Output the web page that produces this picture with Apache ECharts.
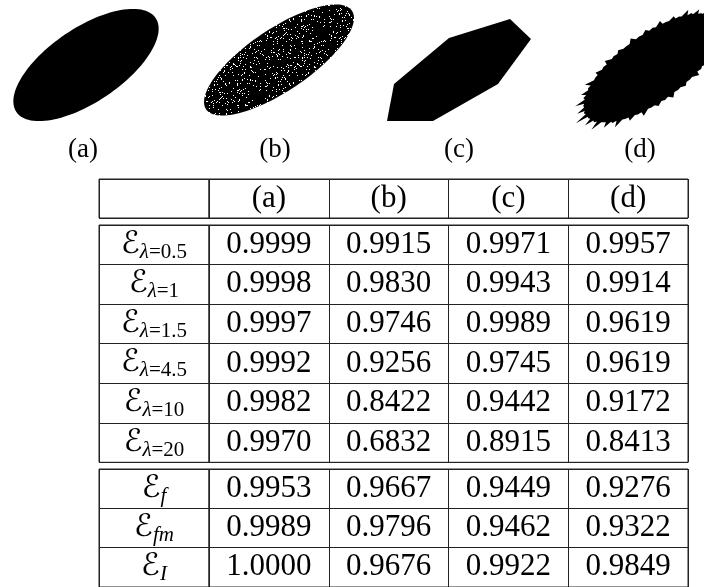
<!DOCTYPE html>
<html>
<head>
<meta charset="utf-8">
<script src="https://cdn.jsdelivr.net/npm/echarts@6/dist/echarts.min.js"></script>
<style>
html,body{margin:0;padding:0;background:#ffffff;}
#c{width:704px;height:587px;}
</style>
</head>
<body>
<div id="c"></div>
<script>
// ---------------- data ----------------
const shapeLabels = ['(a)', '(b)', '(c)', '(d)'];
// ellipses: [cx, cy, rx, ry, angleDeg]
const shapeA = [86, 65, 84, 37, 34];
const shapeB = [279, 60, 88, 31, 34];
// polygon (c) vertices
const shapeC = [[387, 121], [394, 84], [449, 38], [510, 19], [531, 39], [498, 84], [433, 121]];
// jagged ellipse (d): [cx, cy, rx, ry, angleDeg] + radius factors
const shapeD = [652, 68, 84, 34, 36];
const spikesD = [1.10, 0.99, 1.05, 0.98, 1.08, 0.97, 1.04, 0.99, 1.07, 0.98, 1.03, 0.97, 1.06, 0.99, 1.04, 0.98,
                 1.07, 0.97, 1.03, 0.99, 1.06, 0.98, 1.04, 0.97, 1.08, 0.98, 1.05, 0.99, 1.09, 0.97, 1.06, 0.98,
                 1.12, 0.97, 1.07, 0.98, 1.10, 0.96, 1.06, 0.99, 1.09, 0.97, 1.05, 0.98, 1.08, 0.97, 1.04, 0.99,
                 1.07, 0.98, 1.03, 0.97, 1.06, 0.99, 1.04, 0.98, 1.05, 0.97, 1.03, 0.99, 1.06, 0.98, 1.04, 0.97];

const colLabels = ['(a)', '(b)', '(c)', '(d)'];
const rowsTop = ['0.5', '1', '1.5', '4.5', '10', '20'];
const rowsBottom = ['f', 'fm', 'I'];
const valuesA = [0.9999, 0.9998, 0.9997, 0.9992, 0.9982, 0.9970, 0.9953, 0.9989, 1.0000];
const valuesB = [0.9915, 0.9830, 0.9746, 0.9256, 0.8422, 0.6832, 0.9667, 0.9796, 0.9676];
const valuesC = [0.9971, 0.9943, 0.9989, 0.9745, 0.9442, 0.8915, 0.9449, 0.9462, 0.9922];
const valuesD = [0.9957, 0.9914, 0.9619, 0.9619, 0.9172, 0.8413, 0.9276, 0.9322, 0.9849];

// ---------------- styles ----------------
const LINE = '#222222';
const SERIF = "'Liberation Serif','Times New Roman',serif";
const SCRIPT = "'DejaVu Serif','DejaVu Sans',serif";
const CELL_FONT = 31;

// texture for the speckled shape (b): a deterministic hash, style only
function speckleCanvas() {
  const n = 64;
  const c = document.createElement('canvas');
  c.width = n; c.height = n;
  const g = c.getContext('2d');
  g.fillStyle = '#000'; g.fillRect(0, 0, n, n);
  g.fillStyle = '#fff';
  for (let y = 0; y < n; y++) {
    for (let x = 0; x < n; x++) {
      let h = (x * 374761393 + y * 668265263) | 0;
      h = Math.imul(h ^ (h >>> 13), 1274126177);
      h = (h ^ (h >>> 16)) >>> 0;
      if (h % 100 < 7) g.fillRect(x, y, 1, 1);
    }
  }
  return c;
}
const specklePattern = { type: 'pattern', image: speckleCanvas(), repeat: 'repeat' };

// ---------------- layout ----------------
const colLeft = 99, colMid = 209, colRight = 688;
const grids = [
  { left: 0, top: 0, width: 704, height: 170 },                      // shapes
  { left: colLeft, top: 179, width: colMid - colLeft, height: 39 },   // header label
  { left: colMid, top: 179, width: colRight - colMid, height: 39 },   // header data
  { left: colLeft, top: 225, width: colMid - colLeft, height: 237.3 },
  { left: colMid, top: 225, width: colRight - colMid, height: 237.3 },
  { left: colLeft, top: 469, width: colMid - colLeft, height: 118.5 },
  { left: colMid, top: 469, width: colRight - colMid, height: 118.5 }
].map((g, i) => Object.assign({
  show: i > 0, borderColor: LINE, borderWidth: 1, backgroundColor: 'transparent', containLabel: false
}, g));

function catAxis(gridIndex, data, inverse) {
  return {
    gridIndex, type: 'category', data, inverse: !!inverse, boundaryGap: true,
    axisLine: { show: false }, axisTick: { show: false }, axisLabel: { show: false, interval: 0 },
    splitLine: { show: true, interval: 0, lineStyle: { color: LINE, width: 1 } }
  };
}

const xAxes = [
  { gridIndex: 0, type: 'value', min: 0, max: 704, show: false },
  catAxis(1, ['']), catAxis(2, colLabels),
  catAxis(3, ['']), catAxis(4, colLabels),
  catAxis(5, ['']), catAxis(6, colLabels)
];
const yAxes = [
  { gridIndex: 0, type: 'value', min: 0, max: 170, inverse: true, show: false },
  catAxis(1, ['h'], true), catAxis(2, ['h'], true),
  catAxis(3, rowsTop, true), catAxis(4, rowsTop, true),
  catAxis(5, rowsBottom, true), catAxis(6, rowsBottom, true)
];

// ---------------- shapes ----------------
function ellipsePts(api, cx, cy, rx, ry, ang, factors) {
  const a = ang * Math.PI / 180, pts = [];
  const N = factors ? factors.length * 2 : 120;
  for (let i = 0; i < N; i++) {
    const t = 2 * Math.PI * i / N;
    let f = 1;
    if (factors) f = (i % 2 === 0) ? factors[i / 2] : 0.96;
    const ex = rx * Math.cos(t) * f, ey = ry * Math.sin(t) * f;
    const x = cx + ex * Math.cos(a) - ey * Math.sin(a);
    const y = cy - (ex * Math.sin(a) + ey * Math.cos(a));
    pts.push(api.coord([x, y]));
  }
  return pts;
}

const shapeSeries = [
  {
    type: 'custom', xAxisIndex: 0, yAxisIndex: 0, data: [shapeA], silent: true,
    renderItem: (p, api) => ({ type: 'polygon', shape: { points: ellipsePts(api, api.value(0), api.value(1), api.value(2), api.value(3), api.value(4)) }, style: { fill: '#000' } })
  },
  {
    type: 'custom', xAxisIndex: 0, yAxisIndex: 0, data: [shapeB], silent: true,
    renderItem: (p, api) => ({ type: 'polygon', shape: { points: ellipsePts(api, api.value(0), api.value(1), api.value(2), api.value(3), api.value(4)) }, style: { fill: specklePattern } })
  },
  {
    type: 'custom', xAxisIndex: 0, yAxisIndex: 0, data: shapeC, silent: true,
    renderItem: (p, api) => {
      if (p.dataIndex !== 0) return null;
      return { type: 'polygon', shape: { points: shapeC.map(v => api.coord(v)) }, style: { fill: '#000' } };
    }
  },
  {
    type: 'custom', xAxisIndex: 0, yAxisIndex: 0, data: [shapeD], silent: true,
    renderItem: (p, api) => ({ type: 'polygon', shape: { points: ellipsePts(api, api.value(0), api.value(1), api.value(2), api.value(3), api.value(4), spikesD) }, style: { fill: '#000' } })
  },
  {
    type: 'custom', xAxisIndex: 0, yAxisIndex: 0, silent: true,
    data: [
      [shapeA[0] - 3, 150, 0],
      [shapeB[0] - 4, 150, 1],
      [(Math.min(...shapeC.map(v => v[0])) + Math.max(...shapeC.map(v => v[0]))) / 2, 150, 2],
      [shapeD[0] - 12, 150, 3]
    ],
    renderItem: (p, api) => {
      const c = api.coord([api.value(0), api.value(1)]);
      return { type: 'text', x: c[0], y: c[1], style: { text: shapeLabels[api.value(2)], fill: '#000', fontFamily: SERIF, fontSize: 27, align: 'center', verticalAlign: 'middle' } };
    }
  }
];

// ---------------- table cells ----------------
function textCell(gridIndex, data, fmt) {
  return {
    type: 'custom', xAxisIndex: gridIndex, yAxisIndex: gridIndex, silent: true, data,
    renderItem: (p, api) => {
      const c = api.coord([api.value(0), api.value(1)]);
      return {
        type: 'text', x: c[0], y: c[1],
        style: Object.assign({ fill: '#000', fontFamily: SERIF, fontSize: CELL_FONT, align: 'center', verticalAlign: 'middle' }, fmt(p.dataIndex, api))
      };
    }
  };
}

const richStyles = {
  E: { fontFamily: SCRIPT, fontSize: 31, lineHeight: 36, fill: '#000' },
  sl: { fontFamily: SERIF, fontStyle: 'italic', fontSize: 21, lineHeight: 18, verticalAlign: 'bottom', fill: '#000' },
  s: { fontFamily: SERIF, fontSize: 21, lineHeight: 18, verticalAlign: 'bottom', fill: '#000' }
};

const allValues = [valuesA, valuesB, valuesC, valuesD];
function blockData(start, count) {
  const out = [];
  for (let r = 0; r < count; r++) for (let c = 0; c < 4; c++) out.push([c, r, allValues[c][start + r]]);
  return out;
}

const tableSeries = [
  textCell(2, colLabels.map((l, i) => [i, 0]), (i) => ({ text: colLabels[i] })),
  textCell(3, rowsTop.map((l, i) => [0, i]), (i) => ({ text: '{E|ℰ}{sl|λ}{s|=' + rowsTop[i] + '}', rich: richStyles })),
  textCell(4, blockData(0, 6), (i, api) => ({ text: api.value(2).toFixed(4) })),
  textCell(5, rowsBottom.map((l, i) => [0, i]), (i) => ({ text: '{E|ℰ}{sl|' + rowsBottom[i] + '}', rich: richStyles })),
  textCell(6, blockData(6, 3), (i, api) => ({ text: api.value(2).toFixed(4) }))
];

const chart = echarts.init(document.getElementById('c'), null, { renderer: 'canvas' });
chart.setOption({
  animation: false,
  backgroundColor: '#ffffff',
  grid: grids,
  xAxis: xAxes,
  yAxis: yAxes,
  series: shapeSeries.concat(tableSeries)
});
</script>
</body>
</html>
